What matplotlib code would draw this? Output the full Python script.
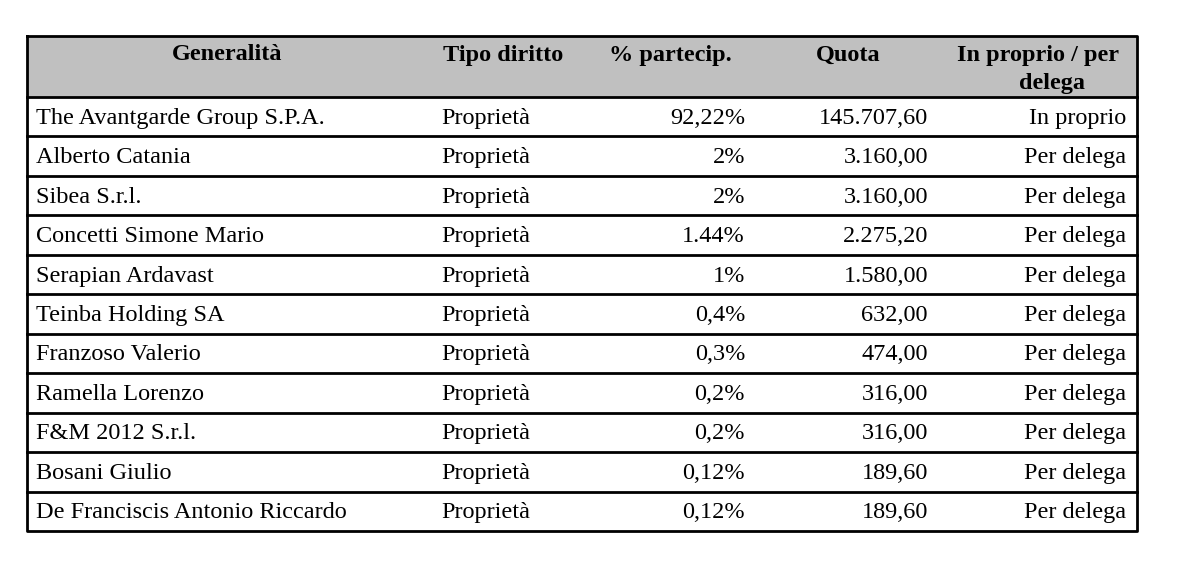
import matplotlib
matplotlib.use("Agg")
import matplotlib.pyplot as plt
from matplotlib.patches import Rectangle

headers = ["Generalità", "Tipo diritto", "% partecip.", "Quota", "In proprio / per\ndelega"]
names = ["The Avantgarde Group S.P.A.", "Alberto Catania", "Sibea S.r.l.", "Concetti Simone Mario",
         "Serapian Ardavast", "Teinba Holding SA", "Franzoso Valerio", "Ramella Lorenzo",
         "F&M 2012 S.r.l.", "Bosani Giulio", "De Franciscis Antonio Riccardo"]
tipo = ["Proprietà"] * 11
partecip = ["92,22%", "2%", "2%", "1.44%", "1%", "0,4%", "0,3%", "0,2%", "0,2%", "0,12%", "0,12%"]
quota = ["145.707,60", "3.160,00", "3.160,00", "2.275,20", "1.580,00", "632,00", "474,00",
         "316,00", "316,00", "189,60", "189,60"]
modo = ["In proprio"] + ["Per delega"] * 10

fig = plt.figure(figsize=(11.82, 5.65), dpi=100)
ax = fig.add_axes([0, 0, 1, 1])
ax.set_xlim(0, 1182); ax.set_ylim(565, 0); ax.axis("off")

L, R, T, HB, B = 27, 1137, 36, 97, 531
rh = (B - HB) / len(names)
fs = 17.5
fam = ["Liberation Serif", "DejaVu Serif"]

ax.add_patch(Rectangle((L, T), R - L, HB - T, facecolor="#c0c0c0", edgecolor="none"))
lw = 2
ax.plot([L, R, R, L, L], [T, T, B, B, T], color="black", lw=lw)
ax.plot([L, R], [HB, HB], color="black", lw=lw)
for i in range(1, len(names)):
    y = HB + i * rh
    ax.plot([L, R], [y, y], color="black", lw=lw)

hx = [227, 503, 670, 848, 1038]
for x, h in zip(hx, headers):
    if "\n" in h:
        a, b = h.split("\n")
        ax.text(x, 55, a, ha="center", va="center", fontsize=fs, fontweight="bold", family=fam)
        ax.text(1052, 84, b, ha="center", va="center", fontsize=fs, fontweight="bold", family=fam)
    else:
        ax.text(x, 55, h, ha="center", va="center", fontsize=fs, fontweight="bold", family=fam)

for i in range(len(names)):
    y = HB + (i + 0.5) * rh + 1.5
    ax.text(36, y, names[i], ha="left", va="center", fontsize=fs, family=fam)
    ax.text(441, y, tipo[i], ha="left", va="center", fontsize=fs, family=fam)
    ax.text(745, y, partecip[i], ha="right", va="center", fontsize=fs, family=fam)
    ax.text(928, y, quota[i], ha="right", va="center", fontsize=fs, family=fam)
    ax.text(1126, y, modo[i], ha="right", va="center", fontsize=fs, family=fam)

fig.savefig("out.png", dpi=100, facecolor="white")
